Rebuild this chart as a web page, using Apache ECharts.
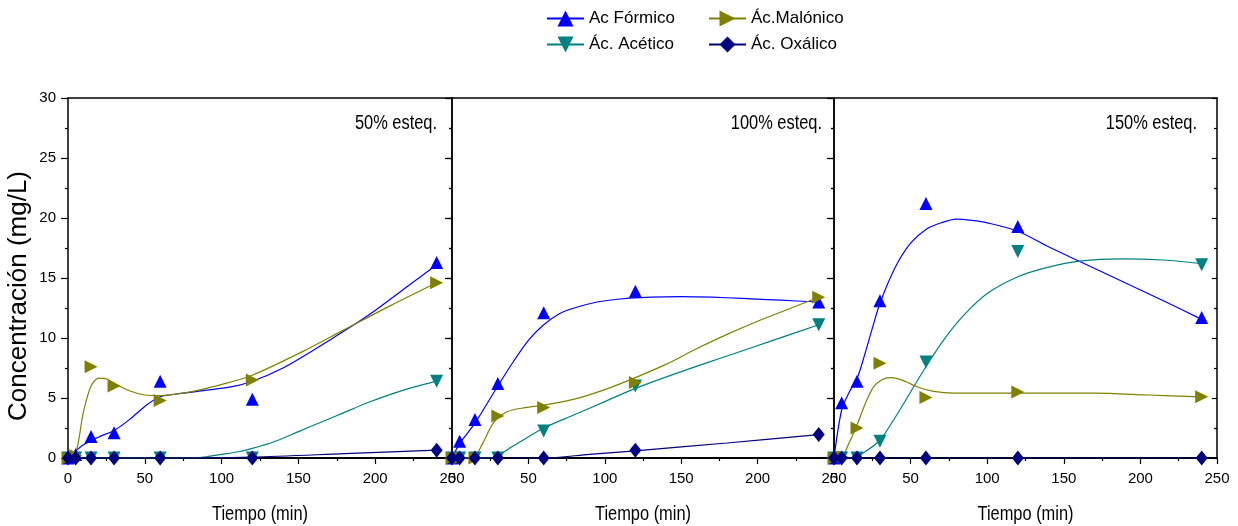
<!DOCTYPE html>
<html><head><meta charset="utf-8">
<script src="https://cdn.jsdelivr.net/npm/echarts@6/dist/echarts.min.js"></script>
<style>html,body{margin:0;padding:0;background:#fff}#c{width:1238px;height:526px}</style>
</head><body><div id="c"></div>
<script>
// ---------- data ----------
const times = [0, 5, 15, 30, 60, 120, 240];
const seriesNames = ['Ac Fórmico', 'Ác. Acético', 'Ác.Malónico', 'Ác. Oxálico'];
const panelLabels = ['50% esteq.', '100% esteq.', '150% esteq.'];
const xTitle = 'Tiempo (min)';
const yTitle = 'Concentración (mg/L)';
const xTickStep = 50;
const yTickStep = 5;

// measured points (markers), one value per time
const formico50  = [0, 0.3, 1.8, 2.1, 6.4, 4.9, 16.3];
const acetico50  = [0, 0, 0, 0, 0, 0, 6.4];
const malonico50 = [0, 0.2, 7.6, 6.0, 4.8, 6.5, 14.6];
const oxalico50  = [0, 0, 0, 0, 0, 0, 0.65];

const formico100  = [0, 1.4, 3.2, 6.2, 12.1, 13.9, 13.0];
const acetico100  = [0, 0, 0, 0, 2.25, 6.0, 11.1];
const malonico100 = [0, 0, 0, 3.5, 4.2, 6.3, 13.4];
const oxalico100  = [0, 0, 0, 0, 0, 0.65, 1.95];

const formico150  = [0, 4.6, 6.4, 13.1, 21.2, 19.3, 11.7];
const acetico150  = [0, 0, 0, 1.4, 8.0, 17.2, 16.1];
const malonico150 = [0, 0.1, 2.5, 7.9, 5.05, 5.5, 5.1];
const oxalico150  = [0, 0, 0, 0, 0, 0, 0];

// fitted curves: [time, value]
const formico50Curve  = [[0,0],[10,1.1],[20,1.75],[30,2.3],[40,3.2],[50,4.3],[60,5.1],[75,5.4],[90,5.65],[105,5.9],[120,6.4],[140,7.5],[160,9.0],[180,10.6],[200,12.3],[220,14.2],[240,16.1]];
const acetico50Curve  = [[0,0],[40,0],[60,0],[80,0],[90,0.1],[100,0.3],[110,0.5],[120,0.8],[135,1.4],[150,2.2],[165,3.0],[180,3.8],[195,4.6],[210,5.3],[225,5.9],[240,6.4]];
const malonico50Curve = [[0,0],[5,0.4],[10,3.8],[15,6.0],[20,6.65],[25,6.6],[30,6.25],[40,5.6],[50,5.25],[60,5.2],[75,5.4],[90,5.8],[105,6.3],[120,6.9],[150,8.7],[180,10.7],[210,12.7],[240,14.6]];
const oxalico50Curve  = [[0,0],[60,0],[120,0.08],[180,0.36],[240,0.65]];

const formico100Curve  = [[0,0],[5,1.2],[15,2.9],[30,6.0],[40,8.0],[50,9.8],[60,11.1],[70,12.0],[80,12.5],[95,13.0],[110,13.25],[130,13.4],[150,13.45],[170,13.4],[190,13.3],[215,13.15],[240,13.0]];
const acetico100Curve  = [[0,0],[15,0],[25,0],[40,1.0],[60,2.5],[80,3.6],[100,4.7],[120,5.8],[150,7.2],[180,8.5],[210,9.8],[240,11.1]];
const malonico100Curve = [[0,0],[14,0.1],[20,1.2],[27,2.9],[36,3.85],[48,4.2],[60,4.4],[80,4.9],[100,5.7],[120,6.7],[140,7.8],[160,9.1],[180,10.3],[200,11.4],[220,12.4],[240,13.4]];
const oxalico100Curve  = [[0,0],[60,0],[90,0.3],[120,0.6],[180,1.25],[240,1.95]];

const formico150Curve  = [[0,0],[5,4.0],[10,5.5],[15,6.6],[20,8.6],[25,10.8],[30,12.9],[40,15.9],[50,17.9],[60,19.05],[70,19.6],[80,19.9],[90,19.8],[100,19.6],[120,18.9],[140,17.6],[165,16.1],[190,14.6],[215,13.1],[240,11.55]];
const acetico150Curve  = [[0,0],[11.5,0],[20,0.5],[30,1.5],[40,3.4],[50,5.5],[60,7.6],[72,9.9],[84,11.8],[100,13.7],[120,15.1],[140,15.9],[160,16.4],[187,16.6],[215,16.5],[240,16.2]];
const malonico150Curve = [[0,0],[4,0],[10,1.3],[15,2.75],[20,4.4],[25.7,5.9],[31,6.5],[36.5,6.7],[42,6.6],[47,6.35],[55,5.9],[65,5.55],[78,5.4],[120,5.4],[170,5.4],[205,5.25],[240,5.1]];
const oxalico150Curve  = [[0,0],[240,0]];

// ---------- styling ----------
const markers = [
  [formico50, acetico50, malonico50, oxalico50],
  [formico100, acetico100, malonico100, oxalico100],
  [formico150, acetico150, malonico150, oxalico150]
];
const curves = [
  [formico50Curve, acetico50Curve, malonico50Curve, oxalico50Curve],
  [formico100Curve, acetico100Curve, malonico100Curve, oxalico100Curve],
  [formico150Curve, acetico150Curve, malonico150Curve, oxalico150Curve]
];
const colors = ['#0000FF', '#008080', '#808000', '#000080'];
const symbols = ['triangle', 'triangle', 'triangle', 'diamond'];
const rotates = [0, 180, -90, 0];
const symSizes = [13, 13, 13, [12, 15]];

const REG = "'Liberation Sans',Arial,sans-serif";

const grids = [
  {left: 68, top: 98, width: 384, height: 360},
  {left: 452, top: 98, width: 382, height: 360},
  {left: 834, top: 98, width: 383, height: 360}
];

const axLine = {show: true, onZero: false, lineStyle: {color: '#000', width: 1.5}};
const xAxes = [], yAxes = [], series = [];
grids.forEach((g, p) => {
  xAxes.push({
    type: 'value', gridIndex: p, min: 0, max: 250, interval: xTickStep, position: 'bottom',
    axisLine: {show: true, onZero: false, lineStyle: {color: '#000', width: 2}},
    axisTick: {show: true, inside: false, length: 6, lineStyle: {color: '#000', width: 1.2}},
    minorTick: {show: true, splitNumber: 2, length: 3, lineStyle: {color: '#000', width: 1.2}},
    splitLine: {show: false},
    axisLabel: {fontSize: 15, fontFamily: REG, color: '#000', margin: 13}
  });
  yAxes.push({
    type: 'value', gridIndex: p, min: 0, max: 30, interval: yTickStep, position: 'left',
    axisLine: axLine,
    axisTick: {show: true, inside: false, length: 7, lineStyle: {color: '#000', width: 1.2}},
    minorTick: {show: true, splitNumber: 2, length: 3, lineStyle: {color: '#000', width: 1.2}},
    splitLine: {show: false},
    axisLabel: {show: p === 0, fontSize: 15, fontFamily: REG, color: '#000', margin: 12}
  });
});
grids.forEach((g, p) => {
  xAxes.push({
    type: 'value', gridIndex: p, min: 0, max: 250, interval: xTickStep, position: 'top',
    axisLine: axLine, axisTick: {show: false}, axisLabel: {show: false}, splitLine: {show: false}
  });
  yAxes.push({
    type: 'value', gridIndex: p, min: 0, max: 30, interval: yTickStep, position: 'right',
    axisLine: axLine,
    axisTick: {show: true, inside: true, length: 5, lineStyle: {color: '#000', width: 1.2}},
    minorTick: {show: true, splitNumber: 2, length: 3, lineStyle: {color: '#000', width: 1.2}},
    axisLabel: {show: false}, splitLine: {show: false}
  });
});

for (let p = 0; p < 3; p++) {
  for (let s = 0; s < 4; s++) {
    series.push({
      type: 'line', name: seriesNames[s], xAxisIndex: p, yAxisIndex: p,
      data: curves[p][s], smooth: 0.3, showSymbol: false,
      symbol: symbols[s], symbolRotate: rotates[s], symbolSize: symSizes[s],
      lineStyle: {color: colors[s], width: 1.2}, itemStyle: {color: colors[s]},
      z: 2, silent: true, animation: false
    });
  }
}
for (let p = 0; p < 3; p++) {
  for (let s = 0; s < 4; s++) {
    series.push({
      type: 'scatter', name: seriesNames[s], xAxisIndex: p, yAxisIndex: p,
      data: times.map((t, i) => [t, markers[p][s][i]]),
      symbol: symbols[s], symbolRotate: rotates[s], symbolSize: symSizes[s],
      itemStyle: {color: colors[s], opacity: 1}, z: 3, animation: false
    });
  }
}

const legendCommon = {
  orient: 'horizontal', itemWidth: 37, itemHeight: 20, itemGap: 0, padding: 0,
  selectedMode: false,
  textStyle: {fontSize: 17, fontFamily: REG, color: '#000'}
};
const legends = [
  Object.assign({data: [seriesNames[0]], left: 546, top: 10}, legendCommon),
  Object.assign({data: [seriesNames[2]], left: 708, top: 10}, legendCommon),
  Object.assign({data: [seriesNames[1]], left: 546, top: 36}, legendCommon),
  Object.assign({data: [seriesNames[3]], left: 708, top: 36}, legendCommon)
];

const labelRight = [437, 822, 1197];
const graphics = [{
  type: 'text', x: 19, y: 296, rotation: Math.PI / 2,
  style: {text: yTitle, fontSize: 26, fontFamily: REG, fill: '#000', align: 'center', verticalAlign: 'middle'}
}];
panelLabels.forEach((t, p) => graphics.push({
  type: 'text', x: labelRight[p], y: 123, scaleX: 0.82,
  style: {text: t, fontSize: 20, fontFamily: REG, fill: '#000', align: 'right', verticalAlign: 'middle'}
}));
grids.forEach((g, p) => graphics.push({
  type: 'text', x: g.left + g.width / 2, y: 514, scaleX: 0.82,
  style: {text: xTitle, fontSize: 20, fontFamily: REG, fill: '#000', align: 'center', verticalAlign: 'middle'}
}));

const chart = echarts.init(document.getElementById('c'), null, {renderer: 'canvas'});
chart.setOption({
  backgroundColor: '#fff',
  animation: false,
  grid: grids,
  xAxis: xAxes,
  yAxis: yAxes,
  legend: legends,
  graphic: graphics,
  series: series
});
</script></body></html>
